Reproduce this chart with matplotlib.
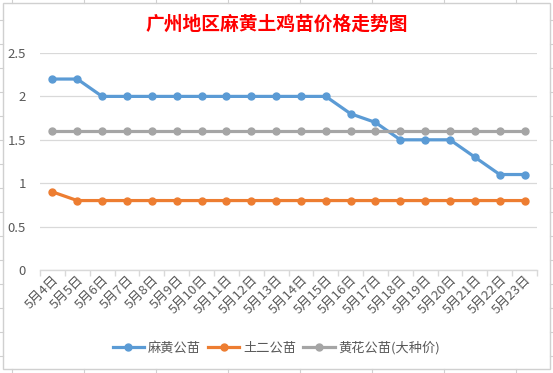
import matplotlib
matplotlib.use("Agg")
import matplotlib.pyplot as plt
from matplotlib.lines import Line2D
from matplotlib.patches import Rectangle
import numpy as np

plt.rcParams['font.family'] = ['Noto Sans CJK SC', 'DejaVu Sans']

dates = [f"5月{d}日" for d in range(4, 24)]
mahuang_gong = [2.2, 2.2, 2.0, 2.0, 2.0, 2.0, 2.0, 2.0, 2.0, 2.0, 2.0, 2.0,
                1.8, 1.7, 1.5, 1.5, 1.5, 1.3, 1.1, 1.1]
tuer_gong = [0.9] + [0.8] * 19
huanghua_gong = [1.6] * 20
series_names = ["麻黄公苗", "土二公苗", "黄花公苗(大种价)"]
yticks = [0, 0.5, 1, 1.5, 2, 2.5]
ytick_labels = ["0", "0.5", "1", "1.5", "2", "2.5"]

BLUE, ORANGE, GREY = "#5B9BD5", "#ED7D31", "#A5A5A5"
TXT = "#595959"
GRID = "#D9D9D9"

fig = plt.figure(figsize=(5.53, 3.73), dpi=100)
W, H = 553, 373

# spreadsheet cell borders peeking outside the chart
for x in range(12, 553, 72):
    fig.add_artist(Line2D([x / W, x / W], [1, 1 - 3 / H], color="#D0D0D0", lw=0.8))
    fig.add_artist(Line2D([x / W, x / W], [0, 4 / H], color="#D0D0D0", lw=0.8))
for y in range(20, 373, 24):
    fig.add_artist(Line2D([0, 3 / W], [1 - y / H, 1 - y / H], color="#D0D0D0", lw=0.8))
    fig.add_artist(Line2D([1 - 3 / W, 1], [1 - y / H, 1 - y / H], color="#D0D0D0", lw=0.8))
# chart area border
fig.add_artist(Rectangle((3 / W, 1 - 369 / H), 547 / W, 366 / H, fill=False,
                         edgecolor="#D0D0D0", lw=1.0))

ax = fig.add_axes([40 / W, 1 - 270 / H, 497 / W, 217 / H])
x = np.arange(len(dates))
for vals, col, name in zip([mahuang_gong, tuer_gong, huanghua_gong],
                           [BLUE, ORANGE, GREY], series_names):
    ax.plot(x, vals, color=col, lw=2.3, marker="o", ms=5, label=name, zorder=3)

ax.set_xlim(-0.5, len(dates) - 0.5)
ax.set_ylim(0, 2.5)
ax.set_yticks(yticks)
ax.set_yticklabels(ytick_labels, color=TXT, fontsize=9.5)
ax.tick_params(axis="y", length=0, pad=10)
ax.yaxis.grid(True, color=GRID, lw=0.9)
ax.set_axisbelow(True)
for s in ["top", "right", "left"]:
    ax.spines[s].set_visible(False)
ax.spines["bottom"].set_color(GRID)
ax.spines["bottom"].set_linewidth(1.0)

ax.set_xticks(x)
ax.set_xticklabels(dates, rotation=45, ha="right", va="top", rotation_mode="anchor",
                   fontsize=9.5, color=TXT)
ax.tick_params(axis="x", length=0, pad=2)
ax.set_xticks(np.arange(-0.5, len(dates), 1), minor=True)
ax.tick_params(axis="x", which="minor", length=4, color=GRID, width=1.0)

fig.text(0.5, 1 - 24 / H, "广州地区麻黄土鸡苗价格走势图", color="red", fontsize=13.5,
         fontweight="bold", ha="center", va="center")

fig.legend(loc="center", bbox_to_anchor=(0.5, 1 - 348 / H), ncol=3, frameon=False,
           fontsize=9.5, labelcolor=TXT, handlelength=2.4, columnspacing=0.5,
           handletextpad=0.3)

fig.savefig("out.png", dpi=100)
